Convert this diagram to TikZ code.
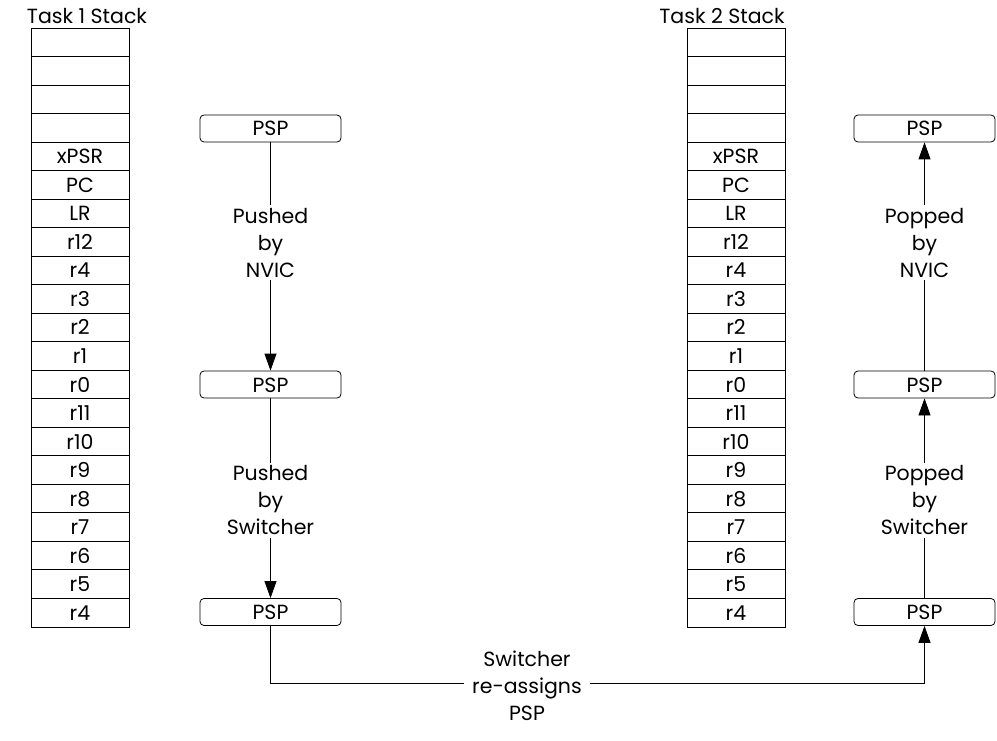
\documentclass[tikz,border=0pt]{standalone}
\usepackage{fontspec}
\setmainfont{Poppins}
\usetikzlibrary{arrows.meta}
\begin{document}
\begin{tikzpicture}[x=1pt,y=-1pt,
  txt/.style={font=\fontsize{20.5}{27}\selectfont},
  cell/.style={txt, draw, line width=0.8pt, minimum width=98pt, minimum height=28.52pt, inner sep=0pt, text height=15pt, text depth=0pt},
  psp/.style={txt, draw, line width=0.8pt, rounded corners=4pt, minimum width=141pt, minimum height=27pt, inner sep=0pt, text height=15pt, text depth=0pt},
  lbl/.style={txt, fill=white, align=center, inner ysep=3pt, inner xsep=8pt},
  conn/.style={line width=0.8pt, -{Triangle[length=17pt,width=12pt]}}
]
\useasboundingbox (0,0) rectangle (997,741);
% titles
\node[txt] (t1) at (87,16) {Task 1 Stack};
\node[txt] (t2) at (722,16) {Task 2 Stack};
% stacks
\foreach \lab [count=\i] in {{},{},{},{},xPSR,PC,LR,r12,r4,r3,r2,r1,r0,r11,r10,r9,r8,r7,r6,r5,r4}{
  \node[cell] (a\i) at (80, 13.74+28.52*\i) {\lab};
  \node[cell] (b\i) at (736, 13.74+28.52*\i) {\lab};
}
% PSP boxes
\node[psp] (p1) at (270.5,128.5) {PSP};
\node[psp] (p2) at (270.5,384.5) {PSP};
\node[psp] (p3) at (270.5,612) {PSP};
\node[psp] (q1) at (924.5,128.5) {PSP};
\node[psp] (q2) at (924.5,384.5) {PSP};
\node[psp] (q3) at (924.5,612) {PSP};
% connectors
\draw[conn] (p1) -- node[lbl,pos=0.44] (l1) {Pushed\\by\\NVIC} (p2);
\draw[conn] (p2) -- node[lbl,pos=0.51] (l2) {Pushed\\by\\Switcher} (p3);
\draw[conn] (q3) -- node[lbl,pos=0.49] (l3) {Popped\\by\\Switcher} (q2);
\draw[conn] (q2) -- node[lbl,pos=0.56] (l4) {Popped\\by\\NVIC} (q1);
\coordinate (bend) at (270.5,683);
\draw[conn] (p3) -- (p3 |- bend) -| (q3);
\node[lbl] (l5) at (527,686) {Switcher\\re-assigns\\PSP};
\end{tikzpicture}
\end{document}
